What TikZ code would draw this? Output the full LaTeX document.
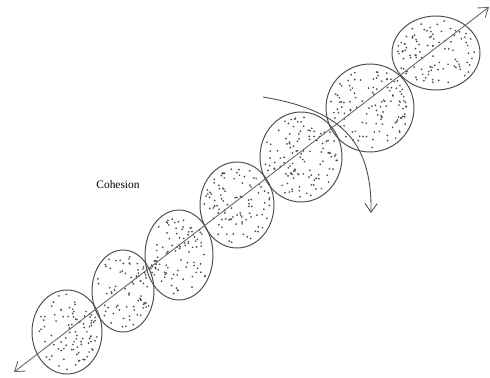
\documentclass[tikz,border=0pt]{standalone}
\usepackage{fontspec}
\setmainfont{Liberation Serif}
\usetikzlibrary{shapes.geometric, arrows.meta}
\tikzset{
  cell/.style={ellipse, draw=black!70, line width=0.55pt, inner sep=0pt},
  grain/.style={fill=black!70},
  arr/.style={{Straight Barb[length=5pt, width=7pt]}-{Straight Barb[length=5pt, width=7pt]}, line width=0.5pt, draw=black!60},
  swing/.style={-{Straight Barb[length=5pt, width=7pt]}, line width=0.5pt, draw=black!70},
}
\begin{document}
\begin{tikzpicture}[x=0.02cm, y=-0.02cm, font=\fontsize{6.5}{8}\selectfont]
  \useasboundingbox (0,0) rectangle (490,378);
  \pgfmathsetseed{17}
  % chain of stippled cells
  \foreach \nm/\cx/\cy/\rx/\ry/\n in {c1/67/332/35/42/90, c2/123/291/31/41/75,
      c3/179/255/34/45/95, c4/237/205/37/43/100, c5/301/157/41/45/115,
      c6/370/108/44/44/120, c7/436/53/44/37/100}{
    \node[cell, minimum width=\rx*0.04cm, minimum height=\ry*0.04cm] (\nm) at (\cx,\cy) {};
    \foreach \k in {1,...,\n}{
      \pgfmathsetmacro{\rr}{0.9*sqrt(rnd)}
      \pgfmathsetmacro{\aa}{360*rnd}
      \fill[grain] ({\cx+\rx*\rr*cos(\aa)},{\cy+\ry*\rr*sin(\aa)}) circle[radius=0.55pt];
    }
  }
  \coordinate (tail) at (14,372);
  \coordinate (head) at (489,7);
  \coordinate (swingA) at (263,97);
  \coordinate (swingB) at (371,213);
  \node (label) at (118,185) {Cohesion};
  \draw[arr] (tail) -- (head);
  \draw[swing] (swingA) .. controls (340,110) and (372,140) .. (swingB);
\end{tikzpicture}
\end{document}
